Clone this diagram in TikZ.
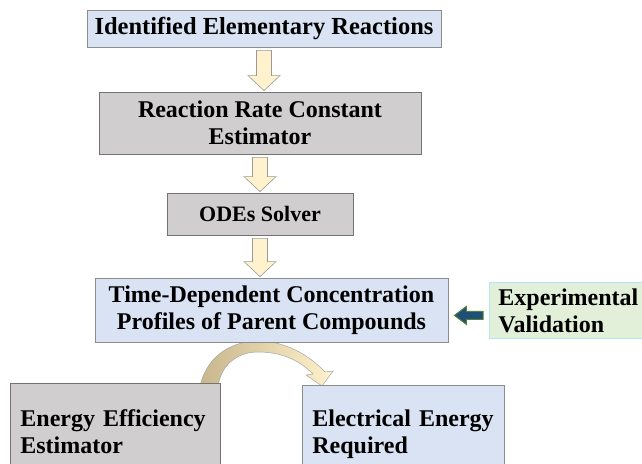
\documentclass[tikz,border=0pt]{standalone}
\usepackage{fontspec}
\setmainfont{Liberation Serif}
\usetikzlibrary{calc}
\definecolor{boxblue}{HTML}{DAE3F3}
\definecolor{boxgray}{HTML}{D0CECE}
\definecolor{boxgreen}{HTML}{E2F0D9}
\definecolor{arrowyellow}{HTML}{FFF2CC}
\definecolor{arrowtan}{HTML}{C8B68C}
\definecolor{arrownavy}{HTML}{1F4E79}
\definecolor{arrowgreen}{HTML}{548235}

% yellow block arrow from the bottom of one box to the top of the next
\newcommand\downblock[2]{%
  \draw[yblock] let \p1=(#1.south), \p2=(#2.north) in
    (\x1-7.5pt,\y1-3pt) -- (\x1+7.5pt,\y1-3pt) -- (\x1+7.5pt,\y2+16pt)
    -- (\x1+16pt,\y2+16pt) -- (\x1,\y2+1pt) -- (\x1-16pt,\y2+16pt)
    -- (\x1-7.5pt,\y2+16pt) -- cycle;}

\begin{document}
\begin{tikzpicture}
  [x=1pt,y=-1pt,
   font=\fontsize{24}{27}\selectfont\bfseries,
   bluebox/.style = {
     draw=black!45, fill=boxblue, line width=0.8pt,
     align=center, inner sep=0pt
   },
   graybox/.style = {
     draw=black!55, fill=boxgray, line width=0.8pt,
     align=center, inner sep=0pt
   },
   greenbox/.style = {
     draw=blue!35!cyan!30!white, fill=boxgreen, line width=0.8pt,
     align=left, inner sep=0pt
   },
   yblock/.style = {
     draw=black!40, fill=arrowyellow, line width=0.6pt
   },
   bblock/.style = {
     draw=arrowgreen, fill=arrownavy, line width=1pt
   }]

  \clip (0,0) rectangle (642,463);

  % Curved arrow between the two lower boxes
  \shade[left color=arrowtan, right color=arrowyellow, draw=black!35, line width=0.5pt]
    (200,386) .. controls (208,352) and (236,341) .. (258,341)
    .. controls (284,341) and (308,354) .. (325,372)
    -- (333,371) -- (322,386) -- (306,375) -- (313,374)
    .. controls (298,359) and (280,352) .. (258,352)
    .. controls (240,352) and (222,362) .. (218,386) -- cycle;

  % Main chain
  \node[bluebox, minimum width=354, minimum height=37] at (264, 28.5) (ider)
    {\fontsize{24.5}{27}\selectfont Identified Elementary Reactions};
  \node[graybox, minimum width=322, minimum height=62] at (260, 123) (rate)
    {Reaction Rate Constant\\Estimator};
  \node[graybox, minimum width=186, minimum height=42] at (260, 214) (ode)
    {\fontsize{22}{26}\selectfont ODEs Solver};
  \node[bluebox, minimum width=353, minimum height=64] at (271.5, 310) (profile)
    {Time-Dependent Concentration\\Profiles of Parent Compounds};

  % Side input
  \node[greenbox, anchor=north west, minimum width=171, minimum height=56,
        text width=153, inner xsep=9pt] at (489, 282) (valid)
    {Experimental\\Validation};

  % Outputs
  \node[graybox, anchor=north west, minimum width=210, minimum height=97,
        text width=190, align=left, inner xsep=10pt] at (10, 383) (eff)
    {Energy Efficiency\\Estimator};
  \node[bluebox, anchor=north west, minimum width=202, minimum height=97,
        text width=182, align=left, inner xsep=10pt] at (302, 385) (elec)
    {Electrical Energy\\Required};

  % Block arrows
  \downblock{ider}{rate}
  \downblock{rate}{ode}
  \downblock{ode}{profile}

  \draw[bblock] let \p1=(valid.west), \p2=(profile.east) in
    (\x1-6pt,\y1-1pt) -- (\x2+18pt,\y1-1pt) -- (\x2+18pt,\y1+4pt)
    -- (\x2+6pt,\y1-5pt) -- (\x2+18pt,\y1-14pt) -- (\x2+18pt,\y1-9pt)
    -- (\x1-6pt,\y1-9pt) -- cycle;

\end{tikzpicture}
\end{document}
